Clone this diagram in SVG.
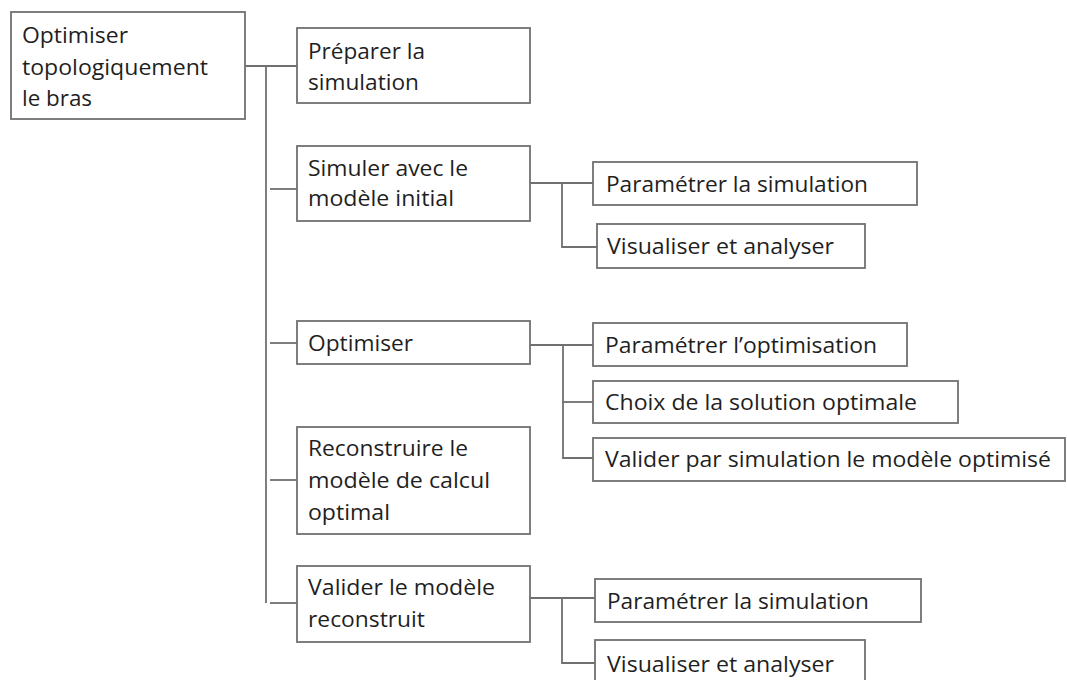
<svg xmlns="http://www.w3.org/2000/svg" width="1067" height="680" viewBox="0 0 1067 680">
<style>
.box{fill:#ffffff;stroke:#707070;stroke-width:1.8}
.t{font-family:"Open Sans","Liberation Sans",sans-serif;font-size:22px;fill:#1f1f1f}
.c{fill:none;stroke:#707070;stroke-width:1.8}
</style>
<rect x="0" y="0" width="1067" height="680" fill="#ffffff"/>
<g id="connectors">
<path class="c" d="M245,66 H297"/>
<path class="c" d="M266,66 V603"/>
<path class="c" d="M270,189 H297"/>
<path class="c" d="M270,343 H297"/>
<path class="c" d="M270,480 H297"/>
<path class="c" d="M270,603 H297"/>
<path class="c" d="M530,183 H593"/>
<path class="c" d="M562,183 V247 H597"/>
<path class="c" d="M530,345 H593"/>
<path class="c" d="M563,345 V458 H593"/>
<path class="c" d="M563,402 H593"/>
<path class="c" d="M530,598 H595"/>
<path class="c" d="M562,598 V663 H595"/>
</g>
<g id="root">
<rect class="box" x="11" y="12" width="234" height="107"/>
<text class="t" x="22" y="43" textLength="106" lengthAdjust="spacingAndGlyphs">Optimiser</text>
<text class="t" x="22" y="75" textLength="186" lengthAdjust="spacingAndGlyphs">topologiquement</text>
<text class="t" x="22" y="106" textLength="70" lengthAdjust="spacingAndGlyphs">le bras</text>
</g>
<g id="preparer">
<rect class="box" x="297" y="28" width="233" height="75"/>
<text class="t" x="308" y="59" textLength="117" lengthAdjust="spacingAndGlyphs">Préparer la</text>
<text class="t" x="308" y="90" textLength="111" lengthAdjust="spacingAndGlyphs">simulation</text>
</g>
<g id="simuler">
<rect class="box" x="297" y="146" width="233" height="75"/>
<text class="t" x="308" y="176" textLength="160" lengthAdjust="spacingAndGlyphs">Simuler avec le</text>
<text class="t" x="308" y="206" textLength="146" lengthAdjust="spacingAndGlyphs">modèle initial</text>
</g>
<g id="optimiser">
<rect class="box" x="297" y="321" width="233" height="43"/>
<text class="t" x="308" y="351" textLength="105" lengthAdjust="spacingAndGlyphs">Optimiser</text>
</g>
<g id="reconstruire">
<rect class="box" x="297" y="427" width="233" height="107"/>
<text class="t" x="308" y="456" textLength="160" lengthAdjust="spacingAndGlyphs">Reconstruire le</text>
<text class="t" x="308" y="488" textLength="182" lengthAdjust="spacingAndGlyphs">modèle de calcul</text>
<text class="t" x="308" y="520" textLength="82" lengthAdjust="spacingAndGlyphs">optimal</text>
</g>
<g id="valider-modele">
<rect class="box" x="297" y="566" width="233" height="76"/>
<text class="t" x="308" y="595" textLength="187" lengthAdjust="spacingAndGlyphs">Valider le modèle</text>
<text class="t" x="308" y="627" textLength="117" lengthAdjust="spacingAndGlyphs">reconstruit</text>
</g>
<g id="param-sim-1">
<rect class="box" x="593" y="162" width="324" height="43"/>
<text class="t" x="606" y="192" textLength="262" lengthAdjust="spacingAndGlyphs">Paramétrer la simulation</text>
</g>
<g id="visualiser-1">
<rect class="box" x="597" y="224" width="268" height="44"/>
<text class="t" x="607" y="254" textLength="227" lengthAdjust="spacingAndGlyphs">Visualiser et analyser</text>
</g>
<g id="param-opt">
<rect class="box" x="593" y="323" width="314" height="43"/>
<text class="t" x="605" y="353" textLength="272" lengthAdjust="spacingAndGlyphs">Paramétrer l’optimisation</text>
</g>
<g id="choix">
<rect class="box" x="593" y="381" width="365" height="42"/>
<text class="t" x="605" y="410" textLength="312" lengthAdjust="spacingAndGlyphs">Choix de la solution optimale</text>
</g>
<g id="valider-sim">
<rect class="box" x="593" y="438" width="472" height="43"/>
<text class="t" x="605" y="467" textLength="446" lengthAdjust="spacingAndGlyphs">Valider par simulation le modèle optimisé</text>
</g>
<g id="param-sim-2">
<rect class="box" x="595" y="579" width="326" height="43"/>
<text class="t" x="607" y="609" textLength="262" lengthAdjust="spacingAndGlyphs">Paramétrer la simulation</text>
</g>
<g id="visualiser-2">
<rect class="box" x="595" y="640" width="270" height="44"/>
<text class="t" x="607" y="672" textLength="227" lengthAdjust="spacingAndGlyphs">Visualiser et analyser</text>
</g>
</svg>
